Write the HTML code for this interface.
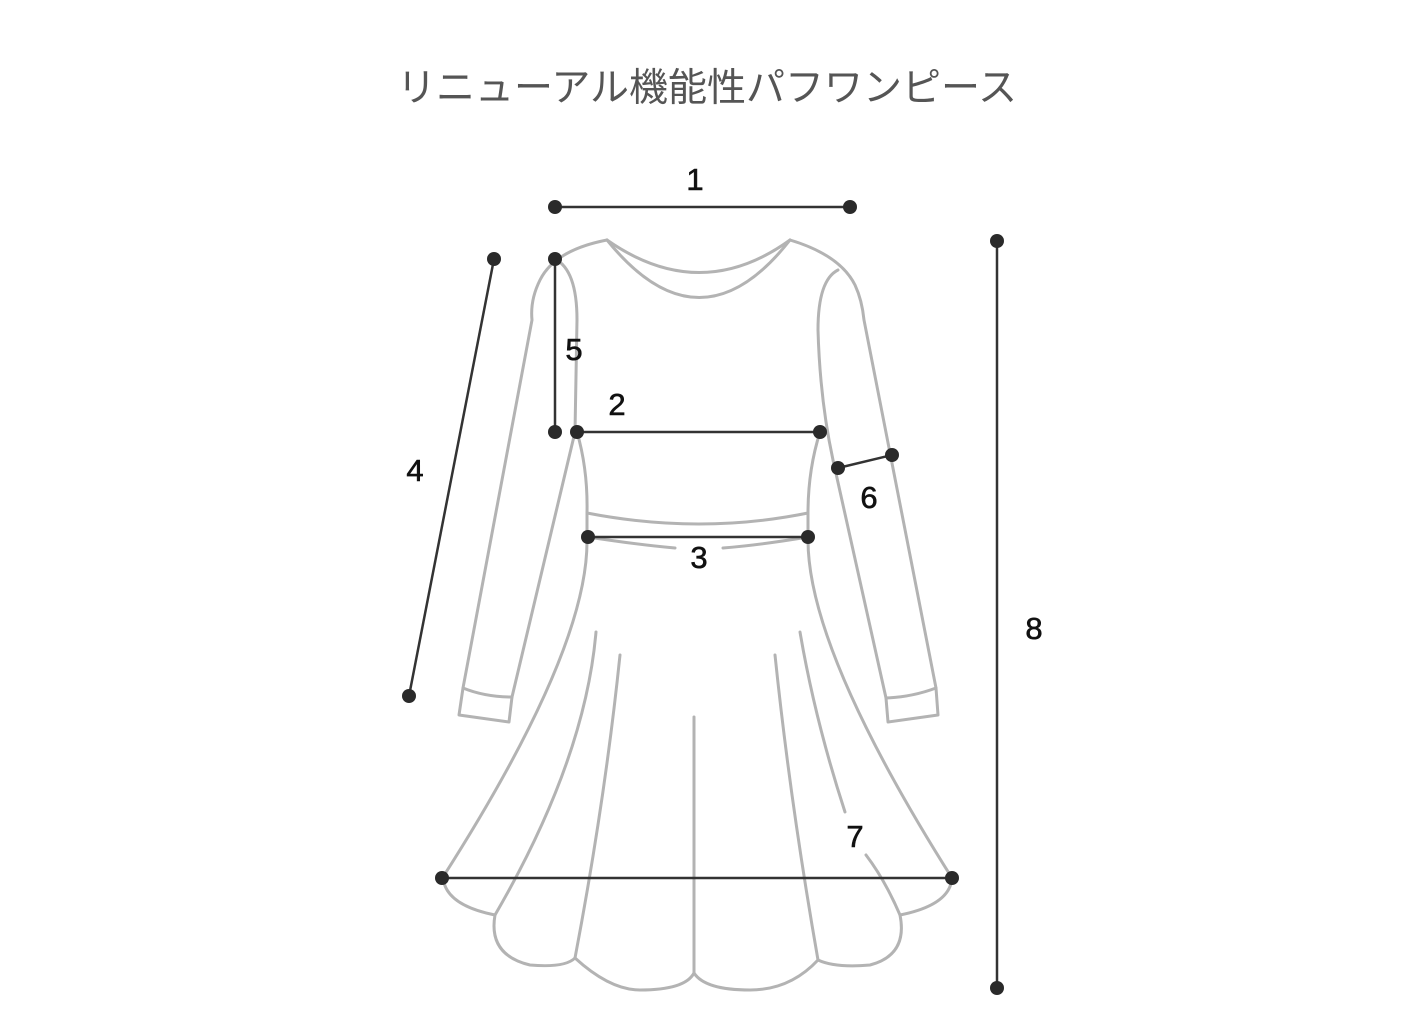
<!DOCTYPE html>
<html><head><meta charset="utf-8"><style>
html,body{margin:0;padding:0;background:#fff;}
svg{display:block}
</style></head><body>
<svg width="1414" height="1029" viewBox="0 0 1414 1029" xmlns="http://www.w3.org/2000/svg">
<rect width="1414" height="1029" fill="#fff"/>
<text x="707" y="101" text-anchor="middle" font-family="'Liberation Sans','Noto Sans CJK JP',sans-serif" font-size="39" fill="#555">リニューアル機能性パフワンピース</text>
<g fill="none" stroke="#b3b3b3" stroke-width="3" stroke-linecap="round" stroke-linejoin="round">
<path d="M607,240 Q700,355 790,240"/>
<path d="M607,240 Q700,305 790,240"/>
<path d="M607,240 Q555,250 540,280 Q530,300 532,320 L463,688 L459,715 L509,722 L512,697"/>
<path d="M463,688 Q485,697 512,697"/>
<path d="M555,259 Q577,270 577,320 L575,432 L512,697"/>
<path d="M790,240 Q840,255 855,285 Q862,300 864,320 L936,688 L938,715 L888,722 L886,698"/>
<path d="M936,688 Q912,697 886,698"/>
<path d="M838,270 Q818,280 818,330 Q820,400 833,460 L886,698"/>
<path d="M577,432 Q588,470 587,513 L587,540"/>
<path d="M820,432 Q808,470 808,513 L808,540"/>
<path d="M587,513 Q700,535 808,513"/>
<path d="M588,537 Q640,545 675,548"/>
<path d="M723,548 Q760,545 808,537"/>
<path d="M587,540 Q588,650 443,877 Q445,905 495,915"/>
<path d="M808,540 Q808,650 952,878 Q950,905 900,915"/>
<path d="M495,915 Q488,955 530,965 Q565,968 575,958"/>
<path d="M575,958 Q610,990 640,990 Q685,990 694,973"/>
<path d="M694,973 Q705,990 750,990 Q790,990 818,960"/>
<path d="M818,960 Q835,968 870,965 Q908,955 900,915"/>
<path d="M596,632 Q585,760 495,915"/>
<path d="M620,655 Q605,800 575,958"/>
<path d="M694,717 L694,973"/>
<path d="M775,655 Q790,800 818,960"/>
<path d="M800,632 Q815,720 845,812"/>
<path d="M866,855 Q885,880 900,915"/>
</g>
<g stroke="#333" stroke-width="2.5" fill="none">
<line x1="555" y1="207" x2="850" y2="207"/>
<line x1="555" y1="259" x2="555" y2="432"/>
<line x1="494" y1="259" x2="409" y2="696"/>
<line x1="577" y1="432" x2="820" y2="432"/>
<line x1="838" y1="468" x2="892" y2="455"/>
<line x1="588" y1="537" x2="808" y2="537"/>
<line x1="442" y1="878" x2="952" y2="878"/>
<line x1="997" y1="241" x2="997" y2="988"/>
</g>
<g fill="#2a2a2a">
<circle cx="555" cy="207" r="7"/><circle cx="850" cy="207" r="7"/>
<circle cx="555" cy="259" r="7"/><circle cx="555" cy="432" r="7"/>
<circle cx="494" cy="259" r="7"/><circle cx="409" cy="696" r="7"/>
<circle cx="577" cy="432" r="7"/><circle cx="820" cy="432" r="7"/>
<circle cx="838" cy="468" r="7"/><circle cx="892" cy="455" r="7"/>
<circle cx="588" cy="537" r="7"/><circle cx="808" cy="537" r="7"/>
<circle cx="442" cy="878" r="7"/><circle cx="952" cy="878" r="7"/>
<circle cx="997" cy="241" r="7"/><circle cx="997" cy="988" r="7"/>
</g>
<g font-family="'Liberation Sans',sans-serif" font-size="31" fill="#111" stroke="#111" stroke-width="0.6" text-anchor="middle">
<text x="695" y="190">1</text>
<text x="574" y="360">5</text>
<text x="617" y="415">2</text>
<text x="415" y="481">4</text>
<text x="869" y="508">6</text>
<text x="699" y="568">3</text>
<text x="855" y="847">7</text>
<text x="1034" y="639">8</text>
</g>
</svg>
</body></html>
